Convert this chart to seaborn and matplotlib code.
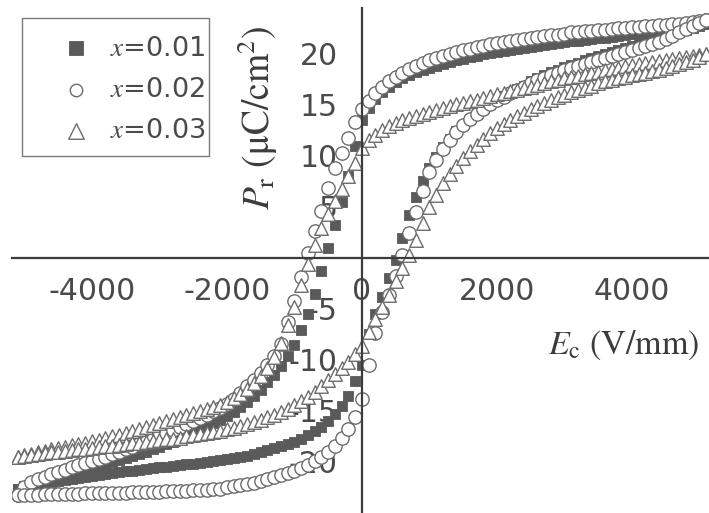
import numpy as np
import pandas as pd
import matplotlib
matplotlib.use("Agg")
import matplotlib.pyplot as plt
from matplotlib.patches import Rectangle
import seaborn as sns

# Electric-field sweep (V/mm), ascending
field = np.arange(-5100, 5101, 100)

# Polarization (uC/cm^2) on the descending (upper) and ascending (lower) branches,
# each listed in ascending field order.
p_001_upper = [
    -22.6, -22.4, -22.2, -22.1, -21.9, -21.7, -21.5, -21.3, -21.2, -21.0,
    -20.8, -20.6, -20.4, -20.2, -20.0, -19.8, -19.6, -19.4, -19.2, -19.0,
    -18.7, -18.5, -18.2, -18.0, -17.7, -17.5, -17.2, -16.9, -16.6, -16.2,
    -15.9, -15.5, -15.1, -14.6, -14.1, -13.5, -12.9, -12.2, -11.5, -10.6,
    -9.6, -8.5, -7.1, -5.5, -3.5, -1.3, 1.0, 3.2, 5.5, 8.0,
    11.0, 13.5, 14.7, 15.6, 16.3, 16.8, 17.2, 17.6, 17.9, 18.2,
    18.4, 18.6, 18.8, 19.0, 19.2, 19.4, 19.5, 19.7, 19.8, 20.0,
    20.1, 20.2, 20.3, 20.4, 20.5, 20.6, 20.7, 20.8, 20.9, 21.0,
    21.1, 21.2, 21.3, 21.3, 21.4, 21.5, 21.6, 21.6, 21.7, 21.8,
    21.9, 22.0, 22.0, 22.1, 22.2, 22.3, 22.3, 22.4, 22.5, 22.6,
    22.7, 22.8, 22.9,
]
p_001_lower = [
    -22.6, -22.5, -22.3, -22.2, -22.1, -22.0, -21.9, -21.8, -21.7, -21.6,
    -21.5, -21.4, -21.3, -21.2, -21.1, -21.0, -20.9, -20.9, -20.8, -20.7,
    -20.6, -20.5, -20.5, -20.4, -20.3, -20.2, -20.2, -20.1, -20.0, -19.9,
    -19.8, -19.7, -19.6, -19.5, -19.4, -19.2, -19.0, -18.8, -18.6, -18.4,
    -18.2, -18.0, -17.7, -17.4, -17.0, -16.6, -16.0, -15.3, -14.5, -13.5,
    -12.1, -10.5, -7.5, -5.5, -3.8, -2.0, -0.2, 2.0, 4.2, 6.0,
    7.5, 8.8, 9.9, 10.9, 11.7, 12.4, 13.0, 13.6, 14.1, 14.6,
    15.1, 15.5, 15.9, 16.2, 16.6, 16.9, 17.3, 17.6, 17.9, 18.2,
    18.4, 18.7, 18.9, 19.1, 19.4, 19.6, 19.8, 20.0, 20.2, 20.4,
    20.6, 20.8, 21.0, 21.2, 21.3, 21.5, 21.7, 21.9, 22.1, 22.3,
    22.5, 22.7, 22.9,
]
p_002_upper = [
    -23.2, -22.5, -22.0, -21.7, -21.5, -21.2, -21.0, -20.8, -20.5, -20.3,
    -20.1, -19.9, -19.7, -19.5, -19.2, -19.0, -18.7, -18.5, -18.2, -18.0,
    -17.7, -17.5, -17.2, -16.9, -16.6, -16.3, -16.0, -15.7, -15.4, -15.0,
    -14.7, -14.3, -13.8, -13.2, -12.6, -12.0, -11.3, -10.5, -9.6, -8.4,
    -6.3, -4.2, -1.9, 0.5, 2.6, 4.6, 6.9, 8.8, 10.3, 11.8,
    13.3, 14.6, 15.4, 16.2, 16.8, 17.3, 17.7, 18.1, 18.5, 18.8,
    19.1, 19.4, 19.6, 19.8, 20.0, 20.2, 20.4, 20.5, 20.7, 20.8,
    21.0, 21.1, 21.2, 21.3, 21.4, 21.5, 21.6, 21.7, 21.8, 21.9,
    21.9, 22.0, 22.1, 22.1, 22.2, 22.2, 22.3, 22.3, 22.4, 22.5,
    22.5, 22.6, 22.6, 22.7, 22.7, 22.8, 22.8, 22.9, 22.9, 23.0,
    23.1, 23.2, 23.3,
]
p_002_lower = [
    -23.2, -23.2, -23.2, -23.2, -23.1, -23.1, -23.1, -23.1, -23.1, -23.1,
    -23.0, -23.0, -23.0, -23.0, -23.0, -23.0, -23.0, -22.9, -22.9, -22.9,
    -22.9, -22.9, -22.8, -22.8, -22.8, -22.8, -22.7, -22.7, -22.7, -22.6,
    -22.6, -22.5, -22.4, -22.3, -22.2, -22.1, -21.9, -21.7, -21.5, -21.3,
    -21.1, -20.9, -20.6, -20.3, -19.9, -19.5, -19.0, -18.4, -17.6, -16.8,
    -15.6, -13.8, -10.5, -7.4, -5.3, -3.6, -1.8, 0.3, 2.4, 4.5,
    6.6, 8.4, 9.6, 10.7, 11.6, 12.3, 13.0, 13.6, 14.1, 14.6,
    15.1, 15.5, 15.8, 16.2, 16.5, 16.8, 17.1, 17.4, 17.6, 17.9,
    18.1, 18.4, 18.6, 18.8, 19.0, 19.2, 19.4, 19.6, 19.8, 20.0,
    20.2, 20.4, 20.6, 20.8, 21.0, 21.2, 21.5, 21.8, 22.1, 22.4,
    22.7, 23.0, 23.3,
]
p_003_upper = [
    -19.5, -19.3, -19.2, -19.0, -18.9, -18.7, -18.6, -18.5, -18.3, -18.2,
    -18.1, -17.9, -17.8, -17.6, -17.5, -17.4, -17.2, -17.0, -16.8, -16.6,
    -16.4, -16.2, -16.0, -15.8, -15.6, -15.4, -15.2, -15.0, -14.8, -14.6,
    -14.4, -14.1, -13.7, -13.3, -12.8, -12.3, -11.6, -10.8, -9.7, -8.3,
    -6.6, -4.8, -2.7, -0.6, 1.3, 2.9, 4.3, 5.6, 6.8, 8.0,
    9.3, 10.8, 11.6, 12.1, 12.5, 12.9, 13.2, 13.5, 13.7, 13.9,
    14.1, 14.3, 14.5, 14.7, 14.9, 15.1, 15.2, 15.4, 15.5, 15.7,
    15.9, 16.1, 16.2, 16.4, 16.5, 16.7, 16.8, 17.0, 17.1, 17.3,
    17.4, 17.6, 17.7, 17.8, 18.0, 18.1, 18.2, 18.4, 18.5, 18.6,
    18.8, 18.9, 19.0, 19.1, 19.2, 19.3, 19.4, 19.5, 19.6, 19.7,
    19.8, 19.9, 20.0,
]
p_003_lower = [
    -19.5, -19.4, -19.3, -19.2, -19.1, -19.0, -19.0, -18.9, -18.8, -18.7,
    -18.7, -18.6, -18.5, -18.4, -18.4, -18.3, -18.2, -18.1, -18.1, -18.0,
    -17.9, -17.8, -17.7, -17.7, -17.6, -17.5, -17.4, -17.3, -17.2, -17.1,
    -17.0, -16.8, -16.7, -16.5, -16.3, -16.1, -15.9, -15.6, -15.4, -15.1,
    -14.8, -14.4, -14.0, -13.6, -13.1, -12.6, -12.0, -11.4, -10.8, -10.2,
    -9.4, -8.6, -7.3, -6.0, -4.8, -3.6, -2.3, -1.0, 0.3, 1.8,
    3.4, 5.0, 6.2, 7.3, 8.2, 9.0, 9.8, 10.5, 11.1, 11.7,
    12.2, 12.7, 13.1, 13.5, 13.9, 14.2, 14.6, 14.9, 15.2, 15.5,
    15.8, 16.0, 16.3, 16.5, 16.7, 16.9, 17.1, 17.3, 17.4, 17.6,
    17.7, 17.9, 18.0, 18.1, 18.3, 18.4, 18.6, 18.8, 19.0, 19.2,
    19.4, 19.7, 20.0,
]

sample_labels = [r"$x$=0.01", r"$x$=0.02", r"$x$=0.03"]
x_major = [-4000, -2000, 0, 2000, 4000]
x_minor = [-5000, -3000, -1000, 1000, 3000, 5000]
y_major = [-20, -15, -10, -5, 5, 10, 15, 20]

frames = []
for lab, up, low in zip(sample_labels,
                        [p_001_upper, p_002_upper, p_003_upper],
                        [p_001_lower, p_002_lower, p_003_lower]):
    frames.append(pd.DataFrame({"E": field, "P": up, "sample": lab}))
    frames.append(pd.DataFrame({"E": field, "P": low, "sample": lab}))
df = pd.concat(frames, ignore_index=True)

sns.set_style("white")
plt.rcParams["font.family"] = ["DejaVu Sans"]
plt.rcParams["mathtext.fontset"] = "stix"
plt.rcParams["axes.unicode_minus"] = False

W, H = 709, 513
fig = plt.figure(figsize=(W / 100, H / 100), dpi=100)
fig.patch.set_facecolor("white")
ax = fig.add_axes([12 / W, 0, 697 / W, 505 / H])

styles = [
    dict(marker="s", s=60, color="#5a5a5a", edgecolor="#5a5a5a", linewidth=0.6, zorder=3),
    dict(marker="o", s=92, color="white", edgecolor="#6c6c6c", linewidth=1.0, zorder=4),
    dict(marker="^", s=95, color="white", edgecolor="#6c6c6c", linewidth=1.0, zorder=5),
]
for lab, st in zip(sample_labels, styles):
    sns.scatterplot(data=df[df["sample"] == lab], x="E", y="P", ax=ax,
                    label=lab, legend=False, **st)

ax.set_xlim(-5185, 5141)
ax.set_ylim(-25.0, 24.5)
ax.set_xlabel("")
ax.set_ylabel("")

# Axes crossing at the origin
for side in ("top", "right"):
    ax.spines[side].set_visible(False)
ax.spines["left"].set_position(("data", 0))
ax.spines["bottom"].set_position(("data", 0))
for side in ("left", "bottom"):
    ax.spines[side].set_color("#3c3c3c")
    ax.spines[side].set_linewidth(1.6)
    ax.spines[side].set_zorder(6)
ax.set_axisbelow(True)

ax.set_xticks(x_major)
ax.set_xticks(x_minor, minor=True)
ax.set_xticklabels([str(v) for v in x_major])
ax.set_yticks(y_major)
ax.set_yticklabels([str(v) for v in y_major])
ax.tick_params(axis="both", which="major", direction="out", length=9.5, width=1.5,
               color="#3c3c3c", labelsize=21.5, labelcolor="#4a4a4a")
ax.tick_params(axis="x", which="major", pad=4)
ax.tick_params(axis="y", which="major", pad=8)
ax.tick_params(axis="x", which="minor", direction="out", length=5.5, width=1.5,
               color="#3c3c3c")

fig.text(258 / W, 1 - 118 / H, r"$P_{\mathrm{r}}$ (μC/cm$^{2}$)", rotation=90,
         ha="center", va="center", fontsize=27, family="STIXGeneral", color="#3c3c3c")
fig.text(548 / W, 1 - 345 / H, r"$E_{\mathrm{c}}$ (V/mm)", ha="left", va="center",
         fontsize=24.5, family="STIXGeneral", color="#3c3c3c")

leg = ax.legend(loc="upper left", bbox_to_anchor=(22 / W, 1 - 18 / H),
                bbox_transform=fig.transFigure, borderaxespad=0, fontsize=19.5,
                frameon=False, handlelength=2.7, handletextpad=-0.1,
                borderpad=0.65, labelspacing=0.57)
for t in leg.get_texts():
    t.set_color("#4a4a4a")
for h, size in zip(leg.legend_handles, [105, 80, 125]):
    h.set_sizes([size])
leg.set_zorder(8)

# Legend frame
ax.add_patch(Rectangle((22 / W, 1 - 156 / H), 187 / W, 138 / H,
                       transform=fig.transFigure, fill=False,
                       edgecolor="#7a7a7a", linewidth=1.0, zorder=7, clip_on=False))

fig.savefig("out.png", dpi=100, facecolor="white")
